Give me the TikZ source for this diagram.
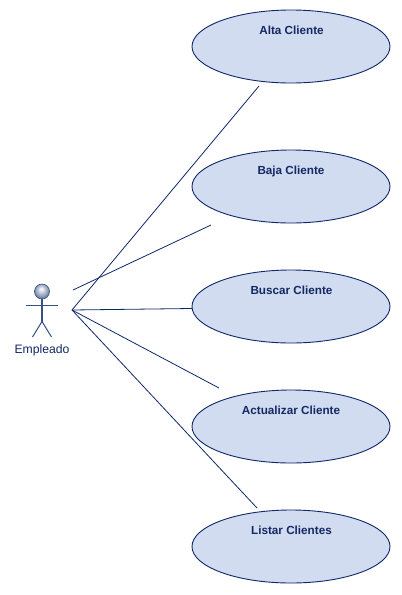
\documentclass[tikz,border=0pt]{standalone}
\usepackage{fontspec}
\setmainfont{Liberation Sans}
\usetikzlibrary{shapes.geometric}
\definecolor{ucline}{RGB}{15,40,105}
\definecolor{ucfill}{RGB}{209,220,240}
\definecolor{actline}{RGB}{55,80,130}
\definecolor{lbl}{RGB}{20,40,100}
\pgfdeclareradialshading{headball}{\pgfpoint{-3bp}{9bp}}{%
  color(0bp)=(white);
  color(6bp)=(white!85!actline);
  color(20bp)=(white!45!actline);
  color(34bp)=(actline);
  color(50bp)=(actline)}
\tikzset{
  usecase/.style={ellipse,draw=ucline,fill=ucfill,line width=0.9pt,minimum width=198pt,minimum height=73pt,inner sep=0pt},
  uclabel/.style={font=\fontsize{11.7}{13}\selectfont\bfseries,text=lbl,inner sep=0pt,anchor=base},
  assoc/.style={draw=ucline,line width=0.8pt},
  stick/.style={draw=actline,line width=1pt}
}
\begin{document}
\begin{tikzpicture}[x=1pt,y=-1pt]
\useasboundingbox (0,0) rectangle (402,595);
\fill[white] (0,0) rectangle (402,595);
\node[usecase] (alta) at (291,46.5) {};
\node[usecase] (baja) at (291,186.5) {};
\node[usecase] (buscar) at (291,306.5) {};
\node[usecase] (actualizar) at (291,426.5) {};
\node[usecase] (listar) at (291,546.5) {};
\node[uclabel] (altaT) at (291.5,34.5) {Alta Cliente};
\node[uclabel] (bajaT) at (291,174.5) {Baja Cliente};
\node[uclabel] (buscarT) at (291.5,294.5) {Buscar Cliente};
\node[uclabel] (actT) at (291,414.5) {Actualizar Cliente};
\node[uclabel] (listarT) at (291.5,534.5) {Listar Clientes};
% actor
\coordinate (hub) at (72,310);
\coordinate (hubB) at (73,290);
\coordinate (endA) at (259,86);
\coordinate (endB) at (211,225);
\coordinate (endC) at (192,308.5);
\coordinate (endD) at (219,388);
\coordinate (endE) at (257,508);
\draw[stick,line width=1.3pt] (42,299) -- (42,321.5);
\draw[stick] (42,321.5) -- (32.5,337);
\draw[stick] (42,321.5) -- (51.5,337);
\draw[stick,line width=0.8pt] (26,305) -- (58,305);
\shade[shading=headball,draw=actline,line width=0.6pt] (42,291.5) circle (7.5);
\node[font=\fontsize{12.2}{14}\selectfont,text=lbl,inner sep=0pt,anchor=base] (actor) at (42,353.5) {Empleado};
% connectors
\draw[assoc] (hub) -- (endA);
\draw[assoc] (hubB) -- (endB);
\draw[assoc] (hub) -- (endC);
\draw[assoc] (hub) -- (endD);
\draw[assoc] (hub) -- (endE);
\end{tikzpicture}
\end{document}
